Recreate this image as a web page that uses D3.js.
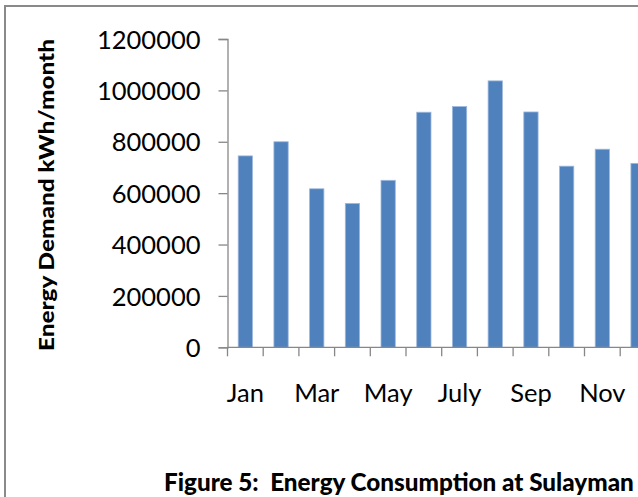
<!DOCTYPE html>
<html>
<head>
<meta charset="utf-8">
<script src="https://cdn.jsdelivr.net/npm/d3@7"></script>
<style>
  html, body { margin: 0; padding: 0; background: #ffffff; overflow: hidden; }
  svg { display: block; }
  text { font-family: Lato, "Open Sans", "Liberation Sans", sans-serif; fill: #000; }
</style>
</head>
<body>
<script>
// ---- data ----
const months = ["Jan", "Feb", "Mar", "Apr", "May", "June", "July", "Aug", "Sep", "Oct", "Nov", "Dec"];
const demand = [745000, 800000, 617000, 560000, 650000, 915000, 937000, 1037000, 916000, 705000, 771000, 716000];
const yTicks = [0, 200000, 400000, 600000, 800000, 1000000, 1200000];
const shownLabels = ["Jan", "Mar", "May", "July", "Sep", "Nov"];
const yTitle = "Energy Demand kWh/month";
const figTitle = "Figure 5:  Energy Consumption at Sulayman";

const W = 638, H = 497;
const svg = d3.select("body").append("svg").attr("width", W).attr("height", H);
svg.append("rect").attr("width", W).attr("height", H).attr("fill", "#fff");

// outer chart border (extends beyond the crop)
svg.append("rect").attr("x", 5).attr("y", 6).attr("width", 800).attr("height", 700)
  .attr("fill", "none").attr("stroke", "#8a8a8a").attr("stroke-width", 2);

const x0 = 227.5, step = 35.7;
const x = d3.scaleBand().domain(months)
  .range([x0, x0 + step * months.length])
  .paddingInner(0.6).paddingOuter(0.3);
const y = d3.scaleLinear().domain([0, 1200000]).range([347.3, 39]);

// bars
svg.append("g").selectAll("rect").data(months).join("rect")
  .attr("x", d => x(d))
  .attr("y", (d, i) => y(demand[i]))
  .attr("width", x.bandwidth())
  .attr("height", (d, i) => y(0) - y(demand[i]))
  .attr("fill", "#4F81BD")
  .attr("stroke", "#9db8dc").attr("stroke-width", 0.8);

// y axis
const yAxis = svg.append("g").attr("transform", `translate(${x0},0)`)
  .call(d3.axisLeft(y).tickValues(yTicks).tickFormat(d3.format("d")).tickSize(9).tickPadding(18));
yAxis.select(".domain").attr("stroke", "#878787").attr("stroke-width", 1.3);
yAxis.selectAll(".tick line").attr("stroke", "#878787").attr("stroke-width", 1.3);
yAxis.selectAll(".tick text").attr("font-size", 25.5).attr("dy", "0.36em")
  .style("font-family", "Lato, 'Open Sans', sans-serif").attr("fill", "#000");

// x axis
const xAxis = svg.append("g").attr("transform", `translate(0,${y(0)})`)
  .call(d3.axisBottom(x).tickSize(0).tickValues(shownLabels));
xAxis.select(".domain").attr("stroke", "#878787").attr("stroke-width", 1.3)
  .attr("d", `M${x0},0H${x0 + step * months.length}`);
xAxis.selectAll(".tick text").attr("font-size", 25.5).attr("dy", null).attr("y", 55)
  .style("font-family", "Lato, 'Open Sans', sans-serif").attr("fill", "#000");
// boundary tick marks
const bounds = d3.range(months.length + 1).map(i => x0 + i * step);
xAxis.append("g").selectAll("line").data(bounds).join("line")
  .attr("x1", d => d).attr("x2", d => d).attr("y1", 0).attr("y2", 9)
  .attr("stroke", "#878787").attr("stroke-width", 1.3);

// y title
svg.append("text")
  .attr("transform", `translate(54,${(39 + 351) / 2}) rotate(-90)`)
  .attr("text-anchor", "middle")
  .attr("font-weight", "900").attr("font-size", 21.5)
  .attr("textLength", 312).attr("lengthAdjust", "spacingAndGlyphs")
  .text(yTitle);

// figure caption (fit so it ends at the right edge, as in the original)
const cap = svg.append("text")
  .attr("x", 164).attr("y", 491)
  .attr("font-weight", "900").attr("font-size", 22)
  .style("white-space", "pre")
  .text(figTitle);
const measured = cap.node().getComputedTextLength();
cap.attr("font-size", 22 * 470 / measured);
</script>
</body>
</html>
